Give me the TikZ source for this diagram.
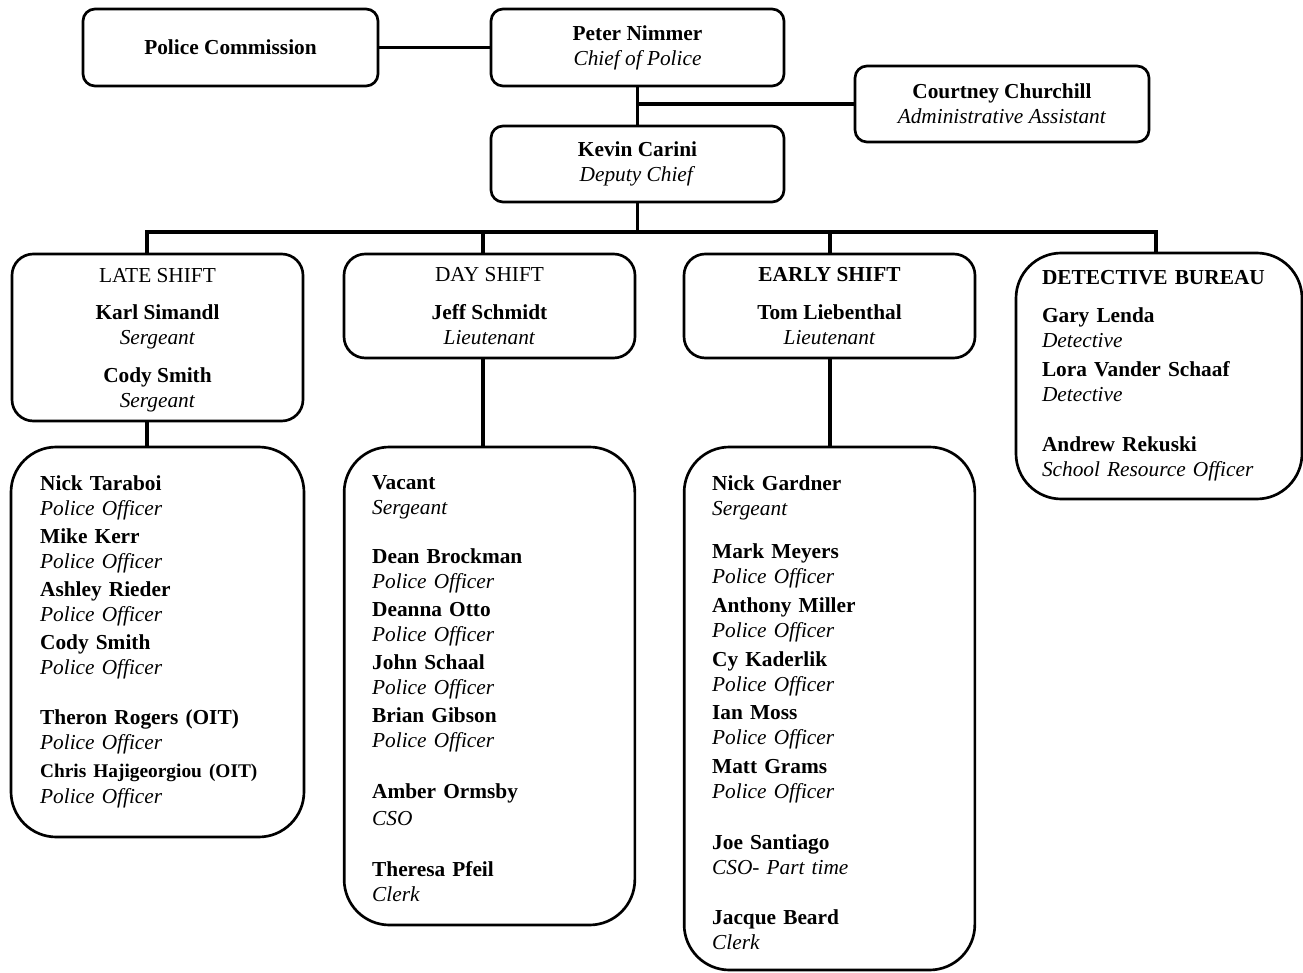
\documentclass[tikz,border=0pt]{standalone}
\usepackage{fontspec}
\setmainfont{Liberation Serif}
\begin{document}
\begin{tikzpicture}[x=0.75pt, y=-0.75pt,
    box/.style={draw, line width=2pt, rounded corners=9pt, align=center, inner sep=0pt, font={\fontsize{16}{18.75}\selectfont}},
    shiftbox/.style={box, rounded corners=16pt, minimum width=218.25pt},
    listbox/.style={box, rounded corners=34pt, align=left, inner xsep=21pt, text width=176pt},
    conn/.style={line width=2.4pt, line join=miter}]
  \useasboundingbox (0,0) rectangle (1303,973);

  % Chief, commission, deputy, assistant
  \node[box, minimum width=221.25pt, minimum height=57.75pt] (commission) at (230.5,47.5) {\textbf{Police Commission}};
  \node[box, minimum width=219.75pt, minimum height=57.75pt] (chief) at (637.5,47.5) {\textbf{Peter Nimmer}\\ \textit{Chief of Police}};
  \node[box, minimum width=219.75pt, minimum height=57pt] (deputy) at (637.5,164) {\textbf{Kevin Carini}\\ \textit{Deputy Chief}};
  \node[box, minimum width=220.5pt, minimum height=57pt] (admin) at (1002,104) {\textbf{Courtney Churchill}\\ \textit{Administrative Assistant}};

  % Shift heads
  \node[shiftbox, minimum height=125.25pt] (late) at (157.5,337.5) {\rule{0pt}{14pt}LATE SHIFT\\[9pt] \textbf{Karl Simandl}\\ \textit{Sergeant}\\[9.75pt] \textbf{Cody Smith}\\ \textit{Sergeant}};
  \node[shiftbox, minimum height=78pt] (day) at (489.5,306) {DAY SHIFT\\[9.75pt] \textbf{Jeff Schmidt}\\ \textit{Lieutenant}};
  \node[shiftbox, minimum height=78pt] (early) at (829.5,306) {\textbf{EARLY SHIFT}\\[9.75pt] \textbf{Tom Liebenthal}\\ \textit{Lieutenant}};
  \node[listbox, inner xsep=19.5pt, text width=175.5pt, minimum height=184.5pt] (detective) at (1159,376) {\textbf{DETECTIVE BUREAU}\\[9.75pt] \textbf{Gary Lenda}\\ \textit{Detective}\\[3pt] \textbf{Lora Vander Schaaf}\\ \textit{Detective}\\[18.75pt] \textbf{Andrew Rekuski}\\ \textit{School Resource Officer}};

  % Officers of each shift
  \node[listbox, minimum width=219.75pt, minimum height=292.5pt] (latelist) at (157.5,642) {\textbf{Nick Taraboi}\\ \textit{Police Officer}\\[2.25pt]
    \textbf{Mike Kerr}\\ \textit{Police Officer}\\[2.25pt]
    \textbf{Ashley Rieder}\\ \textit{Police Officer}\\[2.25pt]
    \textbf{Cody Smith}\\ \textit{Police Officer}\\[18.75pt]
    \textbf{Theron Rogers (OIT)}\\ \textit{Police Officer}\\[2.25pt]
    {\fontsize{14.5}{18.75}\selectfont\textbf{Chris Hajigeorgiou (OIT)}}\\[0.75pt] \textit{Police Officer}};
  \node[listbox, minimum height=358.5pt] (daylist) at (489.5,686) {\rule{0pt}{15pt}\textbf{Vacant}\\ \textit{Sergeant}\\[18pt]
    \textbf{Dean Brockman}\\ \textit{Police Officer}\\[2.25pt]
    \textbf{Deanna Otto}\\ \textit{Police Officer}\\[2.25pt]
    \textbf{John Schaal}\\ \textit{Police Officer}\\[2.25pt]
    \textbf{Brian Gibson}\\ \textit{Police Officer}\\[19.5pt]
    \textbf{Amber Ormsby}\\[1.5pt] \textit{CSO}\\[19.5pt]
    \textbf{Theresa Pfeil}\\ \textit{Clerk}};
  \node[listbox, minimum height=392.25pt] (earlylist) at (829.5,708.5) {\rule{0pt}{17pt}\textbf{Nick Gardner}\\ \textit{Sergeant}\\[13.5pt]
    \textbf{Mark Meyers}\\ \textit{Police Officer}\\[3pt]
    \textbf{Anthony Miller}\\ \textit{Police Officer}\\[3pt]
    \textbf{Cy Kaderlik}\\ \textit{Police Officer}\\[2.25pt]
    \textbf{Ian Moss}\\ \textit{Police Officer}\\[3pt]
    \textbf{Matt Grams}\\ \textit{Police Officer}\\[19.5pt]
    \textbf{Joe Santiago}\\ \textit{CSO- Part time}\\[18.75pt]
    \textbf{Jacque Beard}\\ \textit{Clerk}};

  % Connectors
  \draw[conn] (commission.east) -- (chief.west);
  \draw[conn] (chief.south) -- (deputy.north);
  \coordinate (adminjoin) at (chief.south |- admin.west);
  \draw[conn] (adminjoin) -- (admin.west);

  \coordinate (latedrop) at (147,232);
  \coordinate (daydrop) at (483,232);
  \coordinate (earlydrop) at (830,232);
  \coordinate (detdrop) at (1156,232);
  \draw[conn] (deputy.south) -- (deputy.south |- latedrop);
  \draw[conn] (latedrop |- late.north) -- (latedrop) -- (detdrop) -- (detdrop |- detective.north);
  \foreach \d/\b in {daydrop/day, earlydrop/early}
    \draw[conn] (\d) -- (\d |- \b.north);
  \foreach \d/\b/\l in {latedrop/late/latelist, daydrop/day/daylist, earlydrop/early/earlylist}
    \draw[conn] (\d |- \b.south) -- (\d |- \l.north);
\end{tikzpicture}
\end{document}
